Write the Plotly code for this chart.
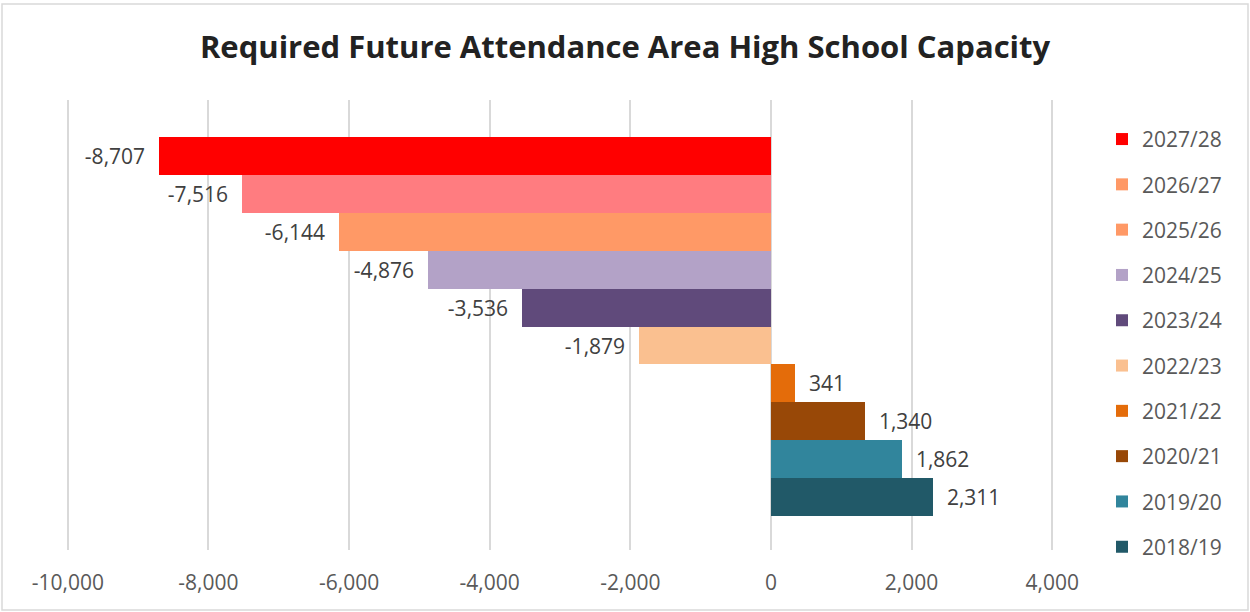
import plotly.graph_objects as go

# Data (bottom to top as drawn)
years = ["2018/19", "2019/20", "2020/21", "2021/22", "2022/23",
         "2023/24", "2024/25", "2025/26", "2026/27", "2027/28"]
values = [2311, 1862, 1340, 341, -1879, -3536, -4876, -6144, -7516, -8707]
bar_colors = ["#215968", "#31859C", "#984807", "#E46C0A", "#FAC090",
              "#604A7B", "#B3A2C7", "#FF9966", "#FF7C80", "#FF0000"]
legend_colors = ["#215968", "#31859C", "#984807", "#E46C0A", "#FAC090",
                 "#604A7B", "#B3A2C7", "#FF9966", "#FF9966", "#FF0000"]

tick_vals = [-10000, -8000, -6000, -4000, -2000, 0, 2000, 4000]
tick_text = ["-10,000", "-8,000", "-6,000", "-4,000", "-2,000", "0", "2,000", "4,000"]

FONT = "Open Sans, Liberation Sans, sans-serif"
PAD = "\u00a0\u00a0"

ML, MR, MT, MB = 65, 195, 100, 62
PW, PH = 1250 - ML - MR, 612 - MT - MB

fig = go.Figure()
n = len(years)
for i, (yr, v, bc, lc) in enumerate(zip(years, values, bar_colors, legend_colors)):
    tmpl = (PAD + "%{x:,}") if v >= 0 else ("%{x:,}" + PAD)
    same = bc == lc
    rank = (n - i) * 10
    fig.add_trace(go.Bar(
        x=[v], y=[yr], orientation="h", name=yr,
        marker=dict(color=bc, line=dict(width=0)),
        texttemplate=tmpl, textposition="outside",
        textfont=dict(family=FONT, size=21, color="#404040"),
        constraintext="none", cliponaxis=False,
        legendgroup=yr, legendrank=rank, showlegend=same, hoverinfo="x+name",
    ))
    if not same:
        fig.add_trace(go.Bar(
            x=[None], y=[None], orientation="h", name=yr,
            marker=dict(color=lc, line=dict(width=0)),
            legendgroup=yr, legendrank=rank, showlegend=True, hoverinfo="skip",
        ))

fig.update_layout(
    width=1250, height=612,
    paper_bgcolor="white", plot_bgcolor="white",
    margin=dict(l=ML, r=MR, t=MT, b=MB),
    barmode="overlay", bargap=0,
    title=dict(text="<b>Required Future Attendance Area High School Capacity</b>",
               x=0.5, xanchor="center", y=1 - 47 / 612, yanchor="middle",
               font=dict(family=FONT, size=31, color="#222222")),
    xaxis=dict(range=[-10040, 4040], tickvals=tick_vals, ticktext=tick_text,
               showgrid=True, gridcolor="#D9D9D9", gridwidth=1.5,
               zeroline=False, showline=False, ticks="",
               ticklabelstandoff=18,
               tickfont=dict(family=FONT, size=21, color="#595959")),
    yaxis=dict(type="category", categoryorder="array", categoryarray=years,
               range=[-1.397, 10.476], showticklabels=False, showgrid=False,
               zeroline=False, showline=False, ticks=""),
    legend=dict(x=(1102 - ML) / PW, xanchor="left", y=0.958, yanchor="top",
                traceorder="grouped", tracegroupgap=15, maxheight=600,
                font=dict(family=FONT, size=21, color="#595959"),
                bgcolor="rgba(0,0,0,0)"),
    shapes=[dict(type="rect", xref="paper", yref="paper",
                 x0=(2 - ML) / PW, x1=(1248 - ML) / PW,
                 y0=-(610 - (612 - MB)) / PH, y1=1 + (MT - 4) / PH,
                 line=dict(color="#D9D9D9", width=1.5), fillcolor="rgba(0,0,0,0)",
                 layer="below")],
    showlegend=True,
)

fig.write_html("out.html")
